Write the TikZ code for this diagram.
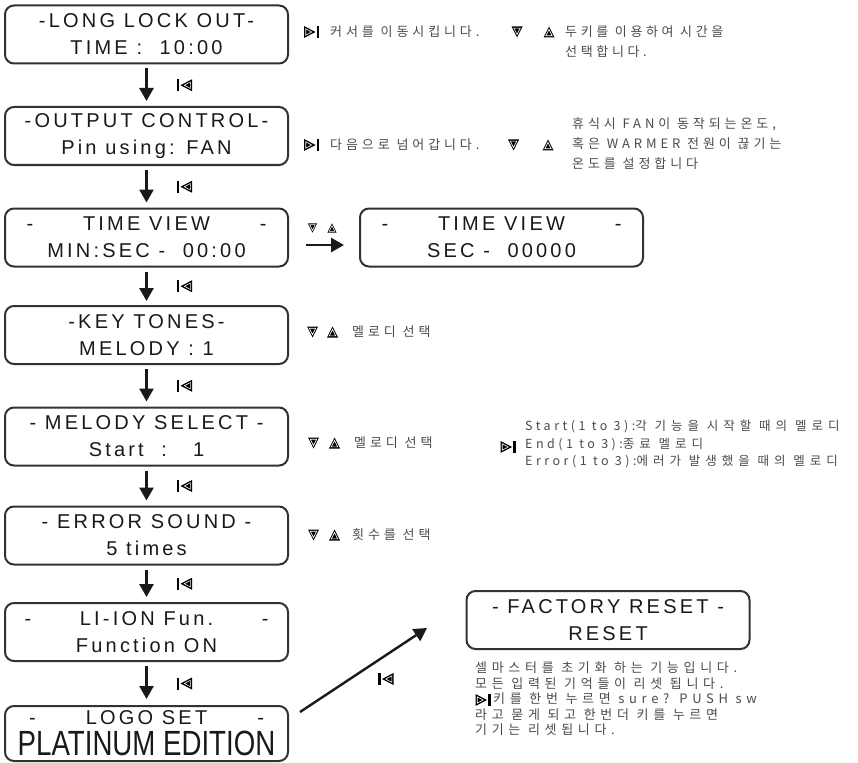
\documentclass[tikz,border=0pt]{standalone}
\usepackage{fontspec}
\usetikzlibrary{arrows.meta,calc}
\newfontfamily\lcdfont{Liberation Sans}[LetterSpace=16]
\newfontfamily\platfont{Liberation Sans}
\newfontfamily\krfont{Noto Sans CJK KR}[LetterSpace=30]
\newfontfamily\krnarrow{Noto Sans CJK KR}[LetterSpace=28]
\newfontfamily\krwide{Noto Sans CJK KR}[LetterSpace=40]
\newfontfamily\krfac{Noto Sans CJK KR}[LetterSpace=36]
\definecolor{boxline}{RGB}{50,50,50}
\definecolor{txt}{RGB}{25,25,25}
\definecolor{notec}{RGB}{75,75,75}
\begin{document}
\begin{tikzpicture}[x=1pt,y=-1pt,
  lcd/.style={draw=boxline, line width=2pt, rounded corners=9pt, minimum width=283pt,
    minimum height=58pt, inner sep=0pt, align=center, text=txt,
    font=\lcdfont\fontsize{20}{27}\selectfont},
  boxtxt/.style={inner sep=0pt, text=txt, font=\lcdfont\fontsize{20}{27}\selectfont},
  flow/.style={draw=txt, line width=2.6pt, -{Triangle[length=13pt,width=14pt]}},
  note/.style={inner sep=0pt, text=notec, align=left,
    font=\krfont\fontsize{13}{20}\selectfont},
  fwd/.pic={\fill (-8.5,-6)--(3,0)--(-8.5,6)--cycle;
    \draw[white,line width=0.6pt] (-6.8,-3.2)--(-0.8,0)--(-6.8,3.2)--cycle;
    \fill (4,-6) rectangle (6.6,6);},
  back/.pic={\fill (-6.6,-6) rectangle (-4.2,6);
    \fill (8.5,-6)--(-3,0)--(8.5,6)--cycle;
    \draw[white,line width=0.6pt] (6.8,-3.2)--(0.8,0)--(6.8,3.2)--cycle;},
  down/.pic={\fill (-5.5,-5.5)--(5.5,-5.5)--(0,5.5)--cycle;
    \draw[white,line width=0.6pt] (-3.2,-3.8)--(3.2,-3.8)--(0,2.6)--cycle;},
  up/.pic={\fill (-5.5,5.5)--(5.5,5.5)--(0,-5.5)--cycle;
    \draw[white,line width=0.6pt] (-3.2,3.8)--(3.2,3.8)--(0,-2.6)--cycle;}
]
\path[use as bounding box, fill=white] (0,0) rectangle (858,762);

% left column of displays
\node[lcd] (b1) at (146.5,34.5) {-LONG LOCK OUT-\\TIME :\ \ 10:00};
\node[lcd] (b2) at (146.5,136) {-OUTPUT CONTROL-\\Pin using: FAN};
\node[lcd] (b3) at (146.5,237.5) {\makebox[240pt]{-\hfill TIME VIEW\hfill -}\\MIN:SEC -\ \ 00:00};
\node[lcd] (b4) at (146.5,335) {-KEY TONES-\\MELODY : 1};
\node[lcd] (b5) at (146.5,436.5) {- MELODY SELECT -\\Start\ \ :\ \ \ 1};
\node[lcd] (b6) at (146.5,535.5) {- ERROR SOUND -\\5 times};
\node[lcd] (b7) at (146.5,632) {\makebox[244pt]{-\hfill LI-ION Fun.\hfill -}\\Function ON};
\node[lcd, minimum height=55pt] (b8) at (146.5,733.5) {};
\node[boxtxt] (b8a) at (146.5,718) {\makebox[235pt]{-\hfill LOGO SET\hfill -}};
\node[inner sep=0pt, text=txt] (b8b) at (146.5,743)
  {\platfont\fontsize{35}{35}\selectfont\scalebox{0.79}[1]{PLATINUM EDITION}};

% right displays
\node[lcd] (b3r) at (501.5,237.5) {\makebox[240pt]{-\hfill TIME VIEW\hfill -}\\SEC -\ \ 00000};
\node[lcd] (fac) at (608,620) {- FACTORY RESET -\\RESET};

% vertical flow arrows
\draw[flow, shorten <=4pt, shorten >=5pt] (b1) -- (b2);
\draw[flow, shorten <=4pt, shorten >=5pt] (b2) -- (b3);
\draw[flow, shorten <=4pt, shorten >=4pt] (b3) -- (b4);
\draw[flow, shorten <=4pt, shorten >=5pt] (b4) -- (b5);
\draw[flow, shorten <=4pt, shorten >=5pt] (b5) -- (b6);
\draw[flow, shorten <=4pt, shorten >=5pt] (b6) -- (b7);
\draw[flow, shorten <=4pt, shorten >=6pt] (b7) -- (b8);
\foreach \a/\b in {b1/b2,b2/b3,b3/b4,b4/b5,b5/b6,b6/b7,b7/b8}
  \pic at ($(\a.south)!0.5!(\b.north)+(37,0)$) {back};

% horizontal arrow to the seconds view
\draw[flow, shorten <=17pt, shorten >=15pt] ([yshift=-7.5pt]b3.east) -- ([yshift=-7.5pt]b3r.west);
\pic[scale=0.85] at (312.5,228) {down};
\pic[scale=0.85] at (332,228) {up};

% diagonal arrow to factory reset
\coordinate (dA) at (300,712);
\coordinate (dB) at (427,628);
\draw[flow, line width=2.4pt] (dA) -- (dB);
\pic at (385,679) {back};

% notes
\pic at (312.5,32) {fwd};
\node[note, anchor=west] (n1a) at (330,32) {커서를 이동시킵니다.};
\pic at (517,32) {down};
\pic at (549,32) {up};
\node[note, anchor=west, font=\krnarrow\fontsize{13}{20}\selectfont] (n1b) at (565,42) {두키를 이용하여 시간을\\선택합니다.};

\pic at (312.5,145) {fwd};
\node[note, anchor=west] (n2a) at (330,145) {다음으로 넘어갑니다.};
\pic at (513.5,145) {down};
\pic at (548,145) {up};
\node[note, anchor=west] (n2b) at (572,144) {휴식시 FAN이 동작되는온도,\\혹은 WARMER 전원이 끊기는\\온도를 설정합니다};

\pic at (312.5,332) {down};
\pic at (332.5,332) {up};
\node[note, anchor=west] (n4) at (352,332) {멜로디 선택};

\pic at (313.5,443) {down};
\pic at (334.5,443) {up};
\node[note, anchor=west] (n5a) at (354,443) {멜로디 선택};
\pic at (509,447) {fwd};
\node[note, anchor=west, font=\krnarrow\fontsize{12.5}{17.5}\selectfont] (n5b) at (525,444)
  {Start(1 to 3):{\krwide 각 기능을 시작할 때의 멜로디}\\End(1 to 3):{\krwide 종료 멜로디}\\Error(1 to 3):{\krwide 에러가 발생했을 때의 멜로디}};

\pic at (313.5,535) {down};
\pic at (334.5,535) {up};
\node[note, anchor=west] (n6) at (352,535) {횟수를 선택};

\node[note, anchor=west, font=\krfac\fontsize{13}{15.5}\selectfont] (nf) at (475,699)
  {셀마스터를 초기화 하는 기능입니다.\\모든 입력된 기억들이 리셋 됩니다.\\\hspace{18pt}키를 한번 누르면 sure? PUSH sw\\라고 묻게 되고 한번더 키를 누르면\\기기는 리셋됩니다.};
\pic at (484,700) {fwd};
\end{tikzpicture}
\end{document}
